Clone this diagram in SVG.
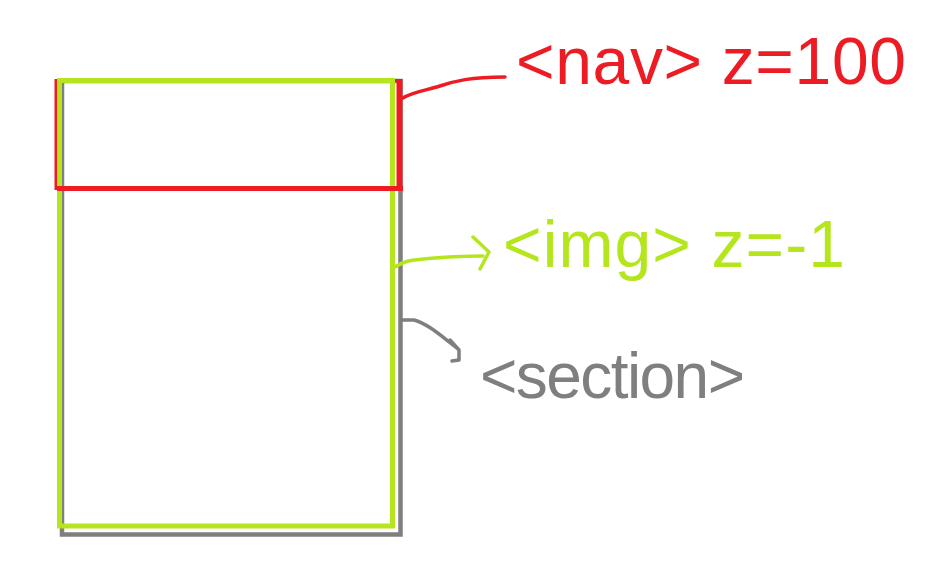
<svg xmlns="http://www.w3.org/2000/svg" width="927" height="585" viewBox="0 0 927 585">
<style>
.box{fill:none}
.lbl{font-family:"Liberation Sans",Arial,sans-serif}
.ink{fill:none;stroke-width:3.5;stroke-linecap:round;stroke-linejoin:round}
.red{stroke:#ED1C24}
.green{stroke:#B5E61D}
.gray{stroke:#7F7F7F}
</style>
<rect width="927" height="585" fill="#ffffff"/>
<g id="section">
<rect class="box" x="62" y="81" width="338.5" height="453.5" stroke="#7F7F7F" stroke-width="4.5"/>
<text class="lbl" x="480" y="398" font-size="64" fill="#7F7F7F" textLength="265" lengthAdjust="spacing">&lt;section&gt;</text>
</g>
<g id="nav">
<rect class="box" x="56" y="80.5" width="343.5" height="108" stroke="#ED1C24" stroke-width="3"/>
<line x1="399.5" y1="79" x2="399.5" y2="191" stroke="#ED1C24" stroke-width="6"/>
<text class="lbl" x="516" y="84" font-size="66" fill="#ED1C24" textLength="390" lengthAdjust="spacing">&lt;nav&gt; z=100</text>
</g>
<g id="img">
<rect class="box" x="59.5" y="80.5" width="333" height="445.5" stroke="#B5E61D" stroke-width="5"/>
<text class="lbl" x="503" y="267" font-size="66" fill="#B5E61D" textLength="342" lengthAdjust="spacing">&lt;img&gt; z=-1</text>
</g>
<line x1="57" y1="188.5" x2="403" y2="188.5" stroke="#ED1C24" stroke-width="5"/>
<g id="connectors">
<path class="ink red" d="M403 98 C 412 92, 428 90, 440 86 C 455 81, 470 77, 505 77"/>
<path class="ink green" d="M393 268 C 400 264, 405 261, 414 260 C 440 257, 460 256, 483 256"/>
<polyline class="ink green" points="473,237 489,252 480,269"/>
<path class="ink gray" d="M402 320 L 414 320 C 428 324, 440 335, 457 348"/>
<polyline class="ink gray" points="450,340 459,350 459,360 452,361"/>
</g>
</svg>
